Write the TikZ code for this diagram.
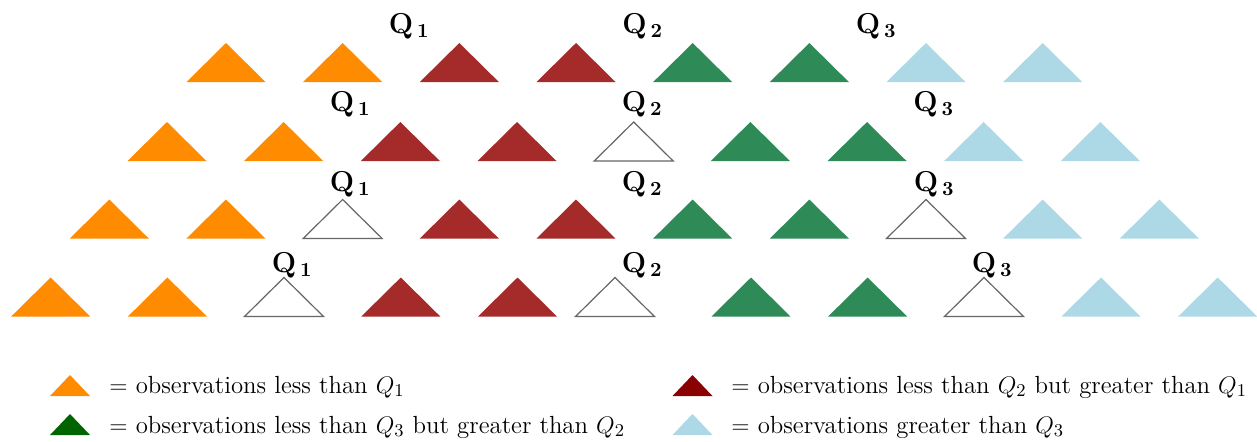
\documentclass[tikz,border=0pt]{standalone}
\usepackage{amsmath}
\definecolor{tOrange}{HTML}{FF8C00}
\definecolor{tRed}{HTML}{A52A2A}
\definecolor{tGreen}{HTML}{2E8B57}
\definecolor{tBlue}{HTML}{ADD8E6}
\definecolor{lGreen}{HTML}{006400}
\definecolor{lRed}{HTML}{8B0000}
\newcommand{\qq}[1]{$\mathbf{Q}_{\hspace{2pt}\mathbf{#1}}$}
\tikzset{
  tri/.pic={\path[pic actions] (-39.5,0) -- (0,-39) -- (39.5,0) -- cycle;},
  ltri/.pic={\path[pic actions] (-20,0) -- (0,-21) -- (20,0) -- cycle;},
  O/.style={fill=tOrange},
  R/.style={fill=tRed},
  G/.style={fill=tGreen},
  B/.style={fill=tBlue},
  W/.style={fill=white,draw=black!60,line width=0.6pt},
  qlab/.style={anchor=base west,inner sep=0pt,font=\Large},
  legtext/.style={anchor=base west,inner sep=0pt,font=\fontsize{12.4}{14}\selectfont},
}
\begin{document}
\begin{tikzpicture}[x=0.5pt,y=-0.5pt]
\useasboundingbox (0,0) rectangle (1257,441);
% row 1
\foreach \c [count=\i from 0] in {O,O,R,R,G,G,B,B}
  \pic[\c] at ({226+\i*116.67},82) {tri};
% row 2
\foreach \c [count=\i from 0] in {O,O,R,R,W,G,G,B,B}
  \pic[\c] at ({167+\i*116.67},161) {tri};
% row 3
\foreach \c [count=\i from 0] in {O,O,W,R,R,G,G,W,B,B}
  \pic[\c] at ({109.3+\i*116.67},238.5) {tri};
% row 4
\foreach \c/\x in {O/50.7,O/167.4,W/284,R/400.8,R/517.5,W/615,G/751,G/867.6,W/984,B/1101,B/1217.7}
  \pic[\c] at (\x,316.5) {tri};
% labels
\node[qlab] (r1q1) at (388.5,33) {\qq{1}};
\node[qlab] (r1q2) at (622,33) {\qq{2}};
\node[qlab] (r1q3) at (855.5,33) {\qq{3}};
\node[qlab] (r2q1) at (329.5,111) {\qq{1}};
\node[qlab] (r2q2) at (621.5,111) {\qq{2}};
\node[qlab] (r2q3) at (913,111) {\qq{3}};
\node[qlab] (r3q1) at (329.5,191) {\qq{1}};
\node[qlab] (r3q2) at (621.5,191) {\qq{2}};
\node[qlab] (r3q3) at (913.5,191) {\qq{3}};
\node[qlab] (r4q1) at (271.5,272) {\qq{1}};
\node[qlab] (r4q2) at (621.5,272) {\qq{2}};
\node[qlab] (r4q3) at (971.5,272) {\qq{3}};
% legend
\pic[fill=tOrange] at (70,396) {ltri};
\pic[fill=lGreen] at (70,435) {ltri};
\pic[fill=lRed] at (692.5,396) {ltri};
\pic[fill=tBlue] at (692.5,435) {ltri};
\node[legtext] (l1) at (109,393) {$=$ observations less than $Q_1$};
\node[legtext] (l2) at (109,433) {$=$ observations less than $Q_3$ but greater than $Q_2$};
\node[legtext] (l3) at (731,393) {$=$ observations less than $Q_2$ but greater than $Q_1$};
\node[legtext] (l4) at (731,433) {$=$ observations greater than $Q_3$};
\end{tikzpicture}
\end{document}
